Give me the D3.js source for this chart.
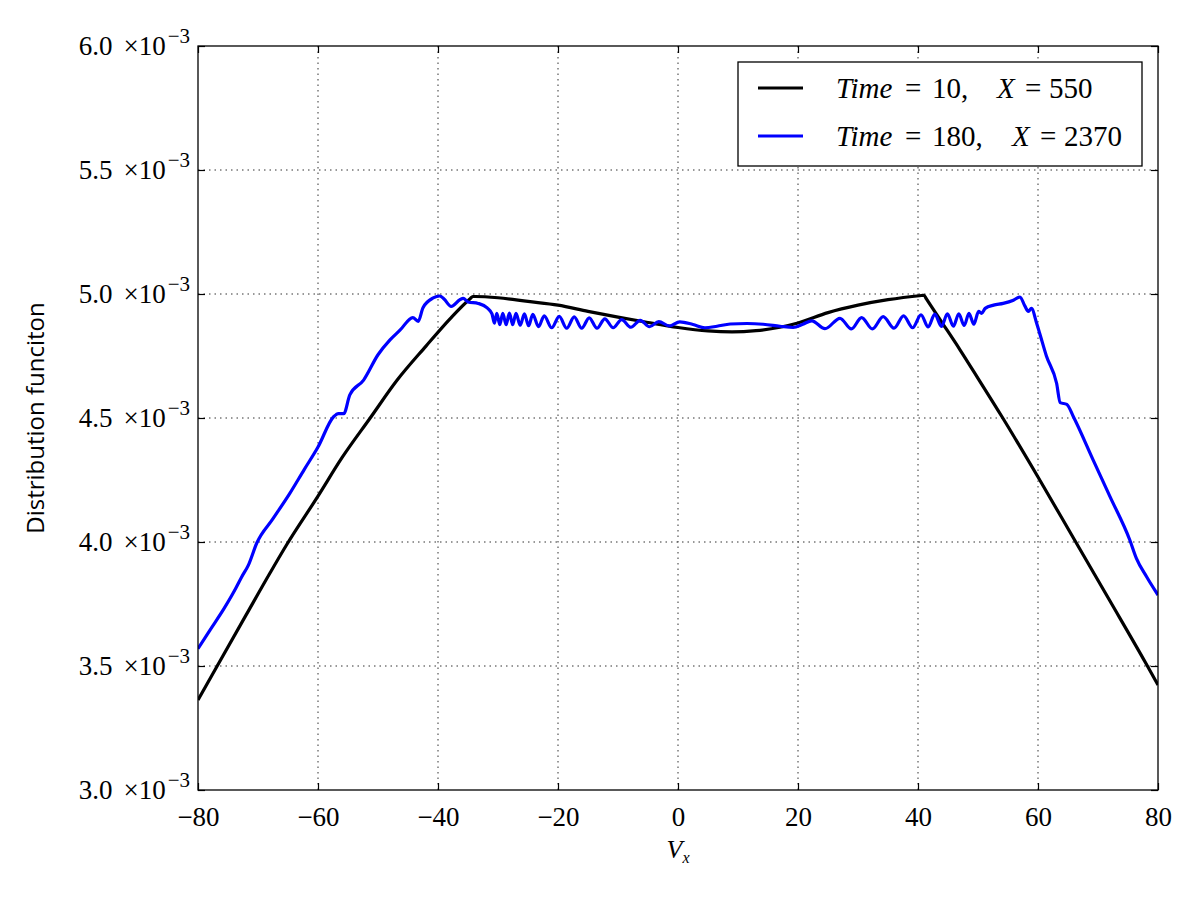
<!DOCTYPE html>
<html>
<head>
<meta charset="utf-8">
<script src="https://cdn.jsdelivr.net/npm/d3@7"></script>
<style>
  body { margin: 0; background: #fff; }
  svg text { fill: #000; }
</style>
</head>
<body>
<script>
// values are in units of 1e-3
var xTicks = [-80, -60, -40, -20, 0, 20, 40, 60, 80];
var yTicks = [3.0, 3.5, 4.0, 4.5, 5.0, 5.5, 6.0];

// Time=10, X=550
var time10 = [
  [-80, 3.363], [-76.8, 3.50], [-72, 3.705], [-68, 3.875], [-65.2, 3.99], [-60, 4.185],
  [-56, 4.34], [-51.3, 4.50], [-46.8, 4.653], [-42, 4.79], [-38, 4.90], [-34.6, 4.982],
  [-34.2, 4.99], [-33.8, 4.99], [-30, 4.985], [-25, 4.97], [-20, 4.955], [-15, 4.93],
  [-10, 4.907], [-5, 4.885], [0, 4.865], [5, 4.851], [9, 4.847], [13, 4.852], [17, 4.866],
  [20, 4.883], [25, 4.925], [30, 4.955], [35, 4.977], [40.6, 4.994], [41, 4.995],
  [41.4, 4.98], [44, 4.885], [47, 4.775], [50, 4.66], [54, 4.505], [60, 4.262], [66, 4.012],
  [72, 3.762], [78, 3.51], [80, 3.423]
];

// Time=180, X=2370
var time180 = [
  [-80, 3.570], [-78, 3.645], [-75.8, 3.726], [-74, 3.800], [-72.7, 3.860], [-71.6, 3.907],
  [-70.2, 3.996], [-67.5, 4.094], [-64.7, 4.196], [-62.3, 4.292], [-60, 4.383],
  [-57.4, 4.505], [-56.6, 4.518], [-55.7, 4.518], [-54.7, 4.593], [-52.4, 4.653],
  [-50, 4.755], [-48, 4.815], [-46.3, 4.855], [-44.2, 4.905], [-43.3, 4.890],
  [-42.5, 4.945], [-40.8, 4.984], [-39.7, 4.992], [-39.0, 4.980], [-37.8, 4.950],
  [-36.3, 4.978], [-35.8, 4.982], [-35.0, 4.968], [-33.3, 4.962], [-31.8, 4.944],
  [-31.0, 4.920], [-30.6, 4.882], [-30.2, 4.922], [-29.7, 4.876], [-29.2, 4.922],
  [-28.65, 4.876], [-28.1, 4.923], [-27.55, 4.876], [-27.0, 4.922], [-26.3, 4.874],
  [-25.6, 4.920], [-24.9, 4.872], [-24.2, 4.918], [-23.25, 4.868], [-22.3, 4.912],
  [-21.05, 4.864], [-19.8, 4.910], [-18.55, 4.862], [-17.3, 4.908], [-16.05, 4.862],
  [-14.8, 4.904], [-13.5, 4.862], [-12.2, 4.900], [-10.8, 4.864], [-9.4, 4.897],
  [-7.85, 4.866], [-6.3, 4.894], [-4.75, 4.868], [-3.2, 4.889], [-1.45, 4.871],
  [0.3, 4.888], [2.5, 4.877], [4.5, 4.864], [6.5, 4.870], [8.7, 4.879], [11.5, 4.881],
  [14.2, 4.878], [17.0, 4.870], [19.2, 4.865], [20.8, 4.878], [22.3, 4.892],
  [24.5, 4.860], [27.0, 4.902], [28.9, 4.859], [30.6, 4.905], [32.4, 4.859],
  [34.2, 4.909], [36.0, 4.862], [37.6, 4.912], [39.1, 4.864], [40.5, 4.916],
  [41.7, 4.867], [42.8, 4.919], [43.9, 4.869], [44.9, 4.920], [45.9, 4.870],
  [46.8, 4.920], [47.7, 4.873], [48.5, 4.922], [49.3, 4.878], [50.1, 4.930],
  [50.6, 4.922], [51.2, 4.942], [52.6, 4.955], [54.2, 4.962], [55.9, 4.975],
  [57.0, 4.988], [57.8, 4.952], [58.4, 4.930], [58.9, 4.942], [59.8, 4.880],
  [60.3, 4.840], [61.4, 4.750], [63.1, 4.640], [63.7, 4.562], [64.8, 4.555],
  [65.9, 4.505], [69.2, 4.330], [72.0, 4.183], [75.3, 4.008], [76.4, 3.934],
  [78.1, 3.860], [80.0, 3.786]
];

var series = [
  { name: "time10", data: time10, color: "#000000",
    label: [["Time", 836, true], ["=", 905], ["10,", 932], ["X", 997, true], ["=", 1025], ["550", 1049]] },
  { name: "time180", data: time180, color: "#0000ff",
    label: [["Time", 836, true], ["=", 905], ["180,", 932], ["X", 1012, true], ["=", 1040], ["2370", 1064]] }
];

var width = 1200, height = 900;
var margin = { top: 46, right: 42, bottom: 110, left: 198 };
var serif = "'Liberation Serif', 'Times New Roman', serif";

var svg = d3.select("body").append("svg")
    .attr("width", width)
    .attr("height", height)
    .style("background", "#fff");

var x = d3.scaleLinear().domain([-80, 80]).range([margin.left, width - margin.right]);
var y = d3.scaleLinear().domain([3.0, 6.0]).range([height - margin.bottom, margin.top]);

// grid
var grid = svg.append("g").attr("class", "grid")
    .attr("stroke", "#333").attr("stroke-width", 1).attr("stroke-dasharray", "1.5,4");
grid.selectAll("line.v").data(xTicks.slice(1, -1)).enter().append("line")
    .attr("class", "v")
    .attr("x1", function(d){ return x(d); }).attr("x2", function(d){ return x(d); })
    .attr("y1", y(6.0)).attr("y2", y(3.0));
grid.selectAll("line.h").data(yTicks.slice(1, -1)).enter().append("line")
    .attr("class", "h")
    .attr("y1", function(d){ return y(d); }).attr("y2", function(d){ return y(d); })
    .attr("x1", x(-80)).attr("x2", x(80));

// curves
svg.append("clipPath").attr("id", "clip").append("rect")
    .attr("x", x(-80)).attr("y", y(6.0))
    .attr("width", x(80) - x(-80)).attr("height", y(3.0) - y(6.0));

var line = d3.line()
    .x(function(d){ return x(d[0]); })
    .y(function(d){ return y(d[1]); })
    .curve(d3.curveMonotoneX);

var lines = svg.append("g").attr("clip-path", "url(#clip)");
series.forEach(function(s){
  lines.append("path")
      .datum(s.data)
      .attr("fill", "none")
      .attr("stroke", s.color)
      .attr("stroke-width", 3.2)
      .attr("stroke-linejoin", "round")
      .attr("d", line);
});

// axes with inward ticks on all four sides
var tl = 7;
var xb = svg.append("g").attr("transform", "translate(0," + y(3.0) + ")")
    .call(d3.axisBottom(x).tickValues(xTicks).tickSizeInner(-tl).tickSizeOuter(0).tickPadding(12)
      .tickFormat(function(d){ return d < 0 ? "\u2212" + Math.abs(d) : d; }));
var xt = svg.append("g").attr("transform", "translate(0," + y(6.0) + ")")
    .call(d3.axisTop(x).tickValues(xTicks).tickSizeInner(-tl).tickSizeOuter(0).tickFormat(""));
var yl = svg.append("g").attr("transform", "translate(" + x(-80) + ",0)")
    .call(d3.axisLeft(y).tickValues(yTicks).tickSizeInner(-tl).tickSizeOuter(0).tickFormat(""));
var yr = svg.append("g").attr("transform", "translate(" + x(80) + ",0)")
    .call(d3.axisRight(y).tickValues(yTicks).tickSizeInner(-tl).tickSizeOuter(0).tickFormat(""));

[xb, xt, yl, yr].forEach(function(g){
  g.selectAll(".domain").remove();
  g.selectAll(".tick line").attr("stroke", "#000").attr("stroke-width", 1.2);
});
xb.selectAll(".tick text")
    .attr("font-family", serif).attr("font-size", 27).attr("fill", "#000")
    .attr("dy", "0.9em");

// y tick labels  "6.0 ×10^-3"
var ylab = svg.append("g");
yTicks.forEach(function(v){
  var t = ylab.append("text")
      .attr("x", x(-80) - 8)
      .attr("y", y(v) + 9)
      .attr("text-anchor", "end")
      .attr("font-family", serif)
      .attr("font-size", 27);
  t.append("tspan").text(v.toFixed(1));
  t.append("tspan").attr("dx", 11).text("\u00d7" + "10");
  t.append("tspan").attr("dx", 2).attr("dy", -12).attr("font-size", 21).text("\u22123");
});

// frame
svg.append("rect")
    .attr("x", x(-80)).attr("y", y(6.0))
    .attr("width", x(80) - x(-80)).attr("height", y(3.0) - y(6.0))
    .attr("fill", "none").attr("stroke", "#000").attr("stroke-width", 1.3);

// axis labels
var xlab = svg.append("text")
    .attr("x", x(0)).attr("y", 858)
    .attr("text-anchor", "middle")
    .attr("font-family", serif).attr("font-size", 26);
xlab.append("tspan").attr("font-style", "italic").text("V");
xlab.append("tspan").attr("font-style", "italic").attr("font-size", 16).attr("dy", 5).text("x");

svg.append("text")
    .attr("transform", "translate(44," + y(4.5) + ") rotate(-90)")
    .attr("text-anchor", "middle")
    .attr("font-family", "'Open Sans', 'Noto Sans', sans-serif")
    .attr("font-size", 24)
    .text("Distribution funciton");

// legend
var legend = svg.append("g");
legend.append("rect")
    .attr("x", 738).attr("y", 62).attr("width", 404).attr("height", 104)
    .attr("fill", "#fff").attr("stroke", "#000").attr("stroke-width", 1.3);
series.forEach(function(s, i){
  var ly = 88 + i * 48;
  legend.append("line")
      .attr("x1", 758).attr("x2", 803).attr("y1", ly).attr("y2", ly)
      .attr("stroke", s.color).attr("stroke-width", 3.2);
  var t = legend.append("text")
      .attr("y", ly + 10)
      .attr("font-family", serif).attr("font-size", 29);
  s.label.forEach(function(p){
    t.append("tspan").attr("x", p[1])
        .attr("font-style", p[2] ? "italic" : "normal")
        .text(p[0]);
  });
});
</script>
</body>
</html>
